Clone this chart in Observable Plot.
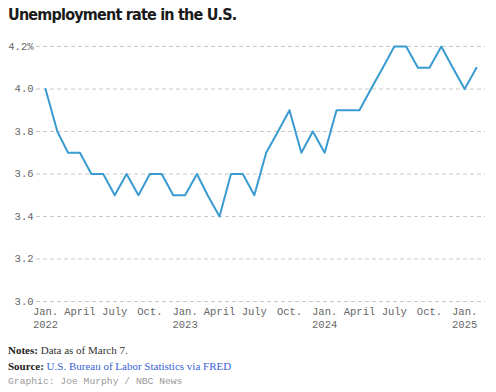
<!DOCTYPE html>
<html>
<head>
<meta charset="utf-8">
<script src="https://cdn.jsdelivr.net/npm/d3@7"></script>
<script src="https://cdn.jsdelivr.net/npm/@observablehq/plot@0.6"></script>
<style>
  html, body { margin: 0; padding: 0; background: #fff; }
  body { width: 496px; height: 392px; overflow: hidden; position: relative; }
  #title { position: absolute; left: 8px; top: 5px; font-family: "DejaVu Sans Condensed", "Roboto", sans-serif; font-stretch: condensed; font-weight: 700; font-size: 16px; letter-spacing: -0.8px; color: #1a1a1a; white-space: nowrap; }
  #chart { position: absolute; left: 0; top: 30px; }
  #footer { position: absolute; left: 8px; top: 343px; font-family: "Liberation Serif", serif; font-size: 11px; color: #333; line-height: 15.5px; }
  #footer b { color: #222; }
  #footer .src { color: #3a5fd9; }
  #footer .credit { font-family: "Liberation Mono", monospace; font-size: 9.7px; color: #999; }
</style>
</head>
<body>
<div id="title">Unemployment rate in the U.S.</div>
<div id="chart"></div>
<div id="footer">
  <div><b>Notes:</b> Data as of March 7.</div>
  <div><b>Source:</b> <span class="src">U.S. Bureau of Labor Statistics via FRED</span></div>
  <div class="credit">Graphic: Joe Murphy / NBC News</div>
</div>
<script>
const startYear = 2022;
const rate2022 = [4.0, 3.8, 3.7, 3.7, 3.6, 3.6, 3.5, 3.6, 3.5, 3.6, 3.6, 3.5];
const rate2023 = [3.5, 3.6, 3.5, 3.4, 3.6, 3.6, 3.5, 3.7, 3.8, 3.9, 3.7, 3.8];
const rate2024 = [3.7, 3.9, 3.9, 3.9, 4.0, 4.1, 4.2, 4.2, 4.1, 4.1, 4.2, 4.1];
const rate2025 = [4.0, 4.1];
const yTicks = [3.0, 3.2, 3.4, 3.6, 3.8, 4.0, 4.2];
const monthLabels = {0: "Jan.", 3: "April", 6: "July", 9: "Oct."};

const series = [rate2022, rate2023, rate2024, rate2025];
const data = [];
series.forEach((arr, i) => arr.forEach((v, m) => data.push({date: new Date(Date.UTC(startYear + i, m, 1)), value: v})));

const xTicks = d3.utcMonths(new Date(Date.UTC(2022, 0, 1)), new Date(Date.UTC(2025, 1, 1)), 3);

const chart = Plot.plot({
  width: 496,
  height: 310,
  marginTop: 16,
  marginBottom: 39,
  marginLeft: 45,
  marginRight: 20,
  style: {fontFamily: "'Liberation Mono', monospace", fontSize: "10.5px", color: "#666", background: "#fff"},
  x: {type: "utc", domain: [data[0].date, data[data.length - 1].date]},
  y: {domain: [3.0, 4.2]},
  marks: [
    Plot.ruleY(yTicks, {stroke: "#c8c8c8", strokeDasharray: "4,3", strokeWidth: 1, insetLeft: -9, insetRight: -9, strokeOpacity: 1}),
    Plot.axisY(yTicks, {tickSize: 0, tickPadding: 12, label: null, fill: "#666",
      tickFormat: d => d === 4.2 ? "4.2%" : d.toFixed(1)}),
    Plot.axisX(xTicks, {tickSize: 0, tickPadding: 5, label: null, fill: "#666", lineHeight: 1.2,
      tickFormat: d => { const m = d.getUTCMonth(); return m === 0 ? `${monthLabels[m]}\n${d.getUTCFullYear()}` : monthLabels[m]; }}),
    Plot.line(data, {x: "date", y: "value", stroke: "#3a9bd0", strokeWidth: 2, curve: "linear"})
  ]
});
document.getElementById("chart").append(chart);
</script>
</body>
</html>
